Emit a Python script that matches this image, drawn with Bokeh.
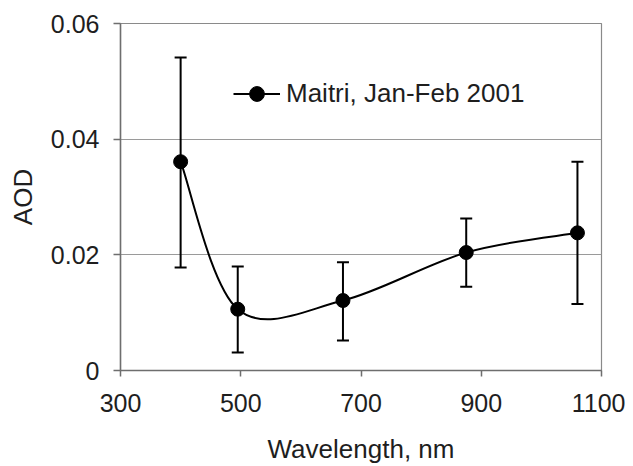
from bokeh.plotting import figure
from bokeh.models import (Range1d, FixedTicker, Whisker, TeeHead, ColumnDataSource,
                          Legend, LegendItem)
from bokeh.embed import file_html
from bokeh.resources import INLINE

# ---- data ----
wavelength = [400, 495, 670, 875, 1060]
aod = [0.0361, 0.0106, 0.0121, 0.0204, 0.0238]
aod_upper = [0.0541, 0.0180, 0.0187, 0.0263, 0.0361]
aod_lower = [0.0178, 0.0031, 0.0052, 0.0145, 0.0115]
x_ticks = [300, 500, 700, 900, 1100]
x_tick_labels = ["300", "500", "700", "900", "1100"]
y_ticks = [0, 0.02, 0.04, 0.06]
y_tick_labels = ["0", "0.02", "0.04", "0.06"]
series_label = "Maitri, Jan-Feb 2001"
x_title = "Wavelength, nm"
y_title = "AOD"

FONT = "Liberation Sans"
TXT = "#1e1e1e"

p = figure(width=625, height=466, output_backend="svg", toolbar_location=None,
           x_range=Range1d(300, 1100), y_range=Range1d(0, 0.06),
           min_border_left=120, min_border_right=24, min_border_top=23, min_border_bottom=96)
p.outline_line_color = "#8a8a8a"
p.outline_line_width = 1.2
p.background_fill_color = "white"
p.border_fill_color = "white"

# grid
p.xgrid.visible = False
p.ygrid.ticker = FixedTicker(ticks=y_ticks)
p.ygrid.grid_line_color = "#9a9a9a"
p.ygrid.grid_line_width = 1.2

# axes
p.xaxis.ticker = FixedTicker(ticks=x_ticks)
p.xaxis.major_label_overrides = {t: l for t, l in zip(x_ticks, x_tick_labels)}
p.yaxis.ticker = FixedTicker(ticks=y_ticks)
p.yaxis.major_label_overrides = {t: l for t, l in zip(y_ticks, y_tick_labels)}
for ax in (p.xaxis[0], p.yaxis[0]):
    ax.axis_line_color = "#6e6e6e"
    ax.axis_line_width = 1.5
    ax.major_tick_line_color = "#6e6e6e"
    ax.major_tick_line_width = 1.5
    ax.major_tick_in = 0
    ax.minor_tick_line_color = None
    ax.major_label_text_font = FONT
    ax.major_label_text_font_size = "25px"
    ax.major_label_text_color = TXT
    ax.axis_label_text_font = FONT
    ax.axis_label_text_font_size = "26px"
    ax.axis_label_text_font_style = "normal"
    ax.axis_label_text_color = TXT
p.xaxis.major_tick_out = 6
p.yaxis.major_tick_out = 7
p.xaxis.major_label_standoff = 17
p.yaxis.major_label_standoff = 14
p.xaxis.axis_label = x_title
p.yaxis.axis_label = y_title
p.xaxis.axis_label_standoff = 19
p.yaxis.axis_label_standoff = 10

# smoothed line (cubic Bezier segments through the data points)
n = len(wavelength)
x0, y0, x1, y1, cx0, cy0, cx1, cy1 = [], [], [], [], [], [], [], []
for i in range(n - 1):
    pr = max(i - 1, 0)
    nx = min(i + 2, n - 1)
    x0.append(wavelength[i]); y0.append(aod[i])
    x1.append(wavelength[i + 1]); y1.append(aod[i + 1])
    cx0.append(wavelength[i] + (wavelength[i + 1] - wavelength[pr]) / 6)
    cy0.append(aod[i] + (aod[i + 1] - aod[pr]) / 6)
    cx1.append(wavelength[i + 1] - (wavelength[nx] - wavelength[i]) / 6)
    cy1.append(aod[i + 1] - (aod[nx] - aod[i]) / 6)
curve = p.bezier(x0=x0, y0=y0, x1=x1, y1=y1, cx0=cx0, cy0=cy0, cx1=cx1, cy1=cy1,
                 line_color="black", line_width=2)

# error bars
src = ColumnDataSource(dict(x=wavelength, y=aod, upper=aod_upper, lower=aod_lower))
p.add_layout(Whisker(source=src, base="x", upper="upper", lower="lower",
                     line_color="black", line_width=2,
                     upper_head=TeeHead(size=12, line_color="black", line_width=2),
                     lower_head=TeeHead(size=12, line_color="black", line_width=2)))

pts = p.scatter(x="x", y="y", source=src, size=14, marker="circle",
                fill_color="black", line_color="black")

legend = Legend(items=[LegendItem(label=series_label, renderers=[curve, pts])],
                location=(113, 258), orientation="vertical",
                glyph_width=47, glyph_height=37, label_height=37, label_standoff=6,
                padding=0, margin=0, spacing=0,
                border_line_color=None, background_fill_alpha=0,
                label_text_font=FONT, label_text_font_size="26px", label_text_color=TXT)
p.add_layout(legend)

open("out.html", "w").write(file_html(p, INLINE))
